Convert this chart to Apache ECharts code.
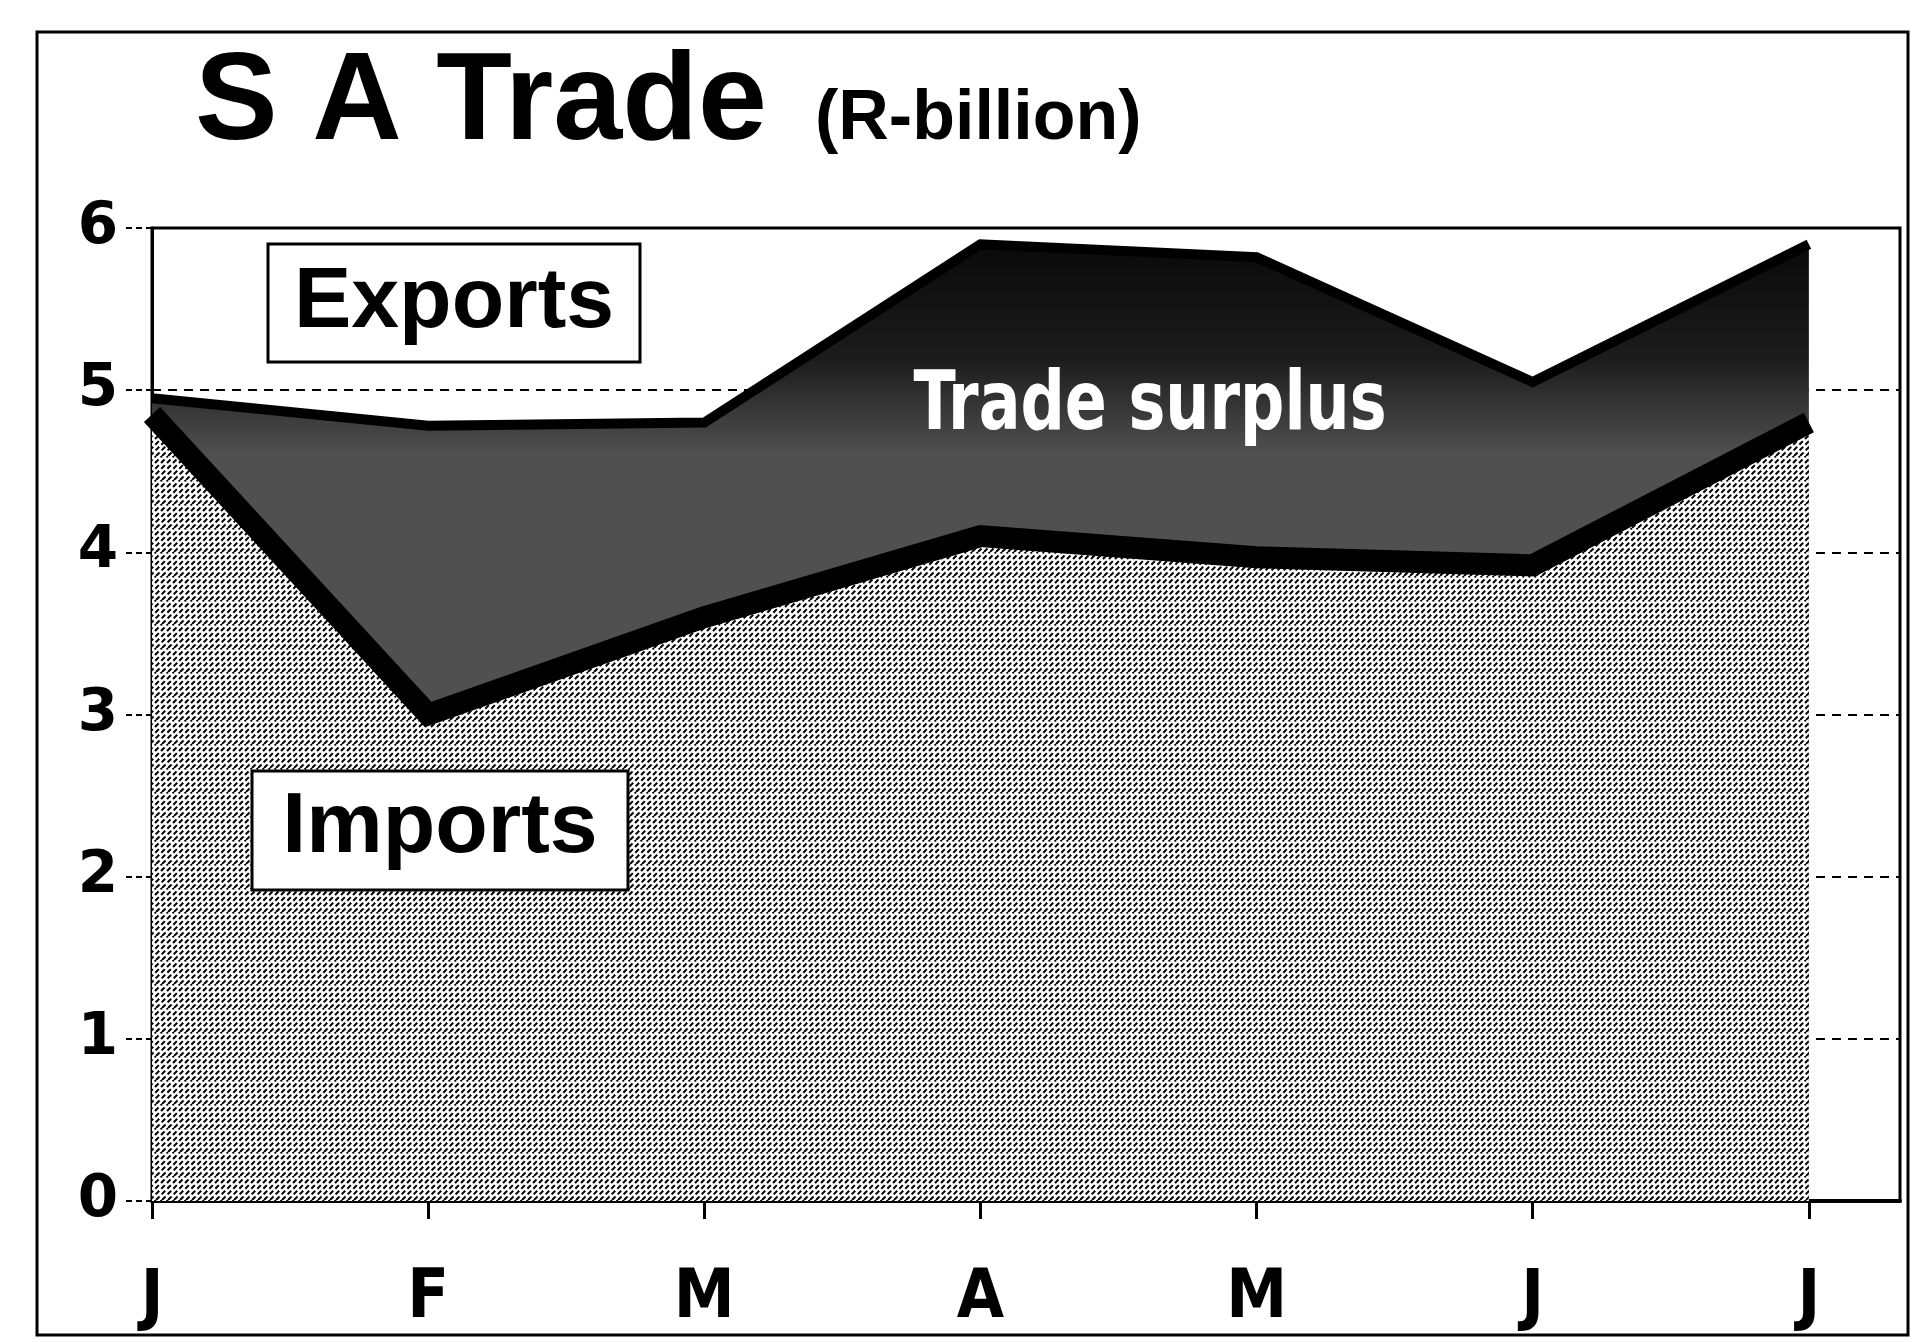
<!DOCTYPE html>
<html>
<head>
<meta charset="utf-8">
<title>S A Trade</title>
<script src="https://cdn.jsdelivr.net/npm/echarts@6.0.0/dist/echarts.min.js"></script>
<style>
  html, body { margin: 0; padding: 0; background: #fff; }
  #main { width: 1912px; height: 1342px; }
</style>
</head>
<body>
<div id="main"></div>
<script>
// months shown on the x axis (Jan..Jul)
var months = ['J', 'F', 'M', 'A', 'M', 'J', 'J'];
// R-billion
var exportsData = [4.95, 4.78, 4.8, 5.9, 5.82, 5.05, 5.9];
var importsData = [4.85, 3.0, 3.6, 4.1, 3.97, 3.92, 4.8];
var monthPos = [0, 1, 2, 3, 4, 5, 6];

function pairs(vals) {
    return vals.map(function (v, i) { return [monthPos[i], v]; });
}

// newsprint-ish hatch for the imports area
function makeHatch() {
    var c = document.createElement('canvas');
    c.width = 24; c.height = 24;
    var ctx = c.getContext('2d');
    ctx.fillStyle = '#fff';
    ctx.fillRect(0, 0, 24, 24);
    ctx.strokeStyle = '#000';
    ctx.lineWidth = 2;
    ctx.setLineDash([5, 3]);
    for (var o = -24; o <= 24; o += 6) {
        ctx.beginPath();
        ctx.moveTo(o, 24);
        ctx.lineTo(o + 24, 0);
        ctx.stroke();
    }
    return c;
}

var myChart = echarts.init(document.getElementById('main'), null, {renderer: 'canvas'});
var axisFont = "'Liberation Sans Narrow', 'DejaVu Sans Condensed', sans-serif";

myChart.setOption({
    animation: false,
    backgroundColor: '#fff',
    grid: {
        left: 152, right: 12, top: 228, bottom: 141,
        show: true, borderColor: '#000', borderWidth: 3, backgroundColor: '#fff'
    },
    xAxis: {
        type: 'value', min: 0, max: 6.33,
        axisLine: {show: true, onZero: false, lineStyle: {color: '#000', width: 4}},
        axisTick: {show: true, length: 18, customValues: monthPos, lineStyle: {color: '#000', width: 3}},
        axisLabel: {
            customValues: monthPos, margin: 64,
            fontFamily: axisFont, fontWeight: 'bold', fontSize: 68, color: '#000',
            formatter: function (v) { return months[Math.round(v)]; }
        },
        splitLine: {show: false}
    },
    yAxis: {
        type: 'value', min: 0, max: 6, interval: 1,
        axisLine: {show: true, lineStyle: {color: '#000', width: 3}},
        axisTick: {show: true, length: 26, lineStyle: {color: '#000', width: 2, type: [6, 4]}},
        axisLabel: {
            margin: 34, fontFamily: "'DejaVu Sans', sans-serif", fontWeight: 'bold',
            fontSize: 58, color: '#000'
        },
        splitLine: {show: true, lineStyle: {color: '#000', width: 2, type: [9, 7]}}
    },
    series: [
        {
            name: 'Exports', type: 'line', data: pairs(exportsData),
            symbol: 'none', z: 2,
            lineStyle: {color: '#000', width: 10, join: 'miter'},
            areaStyle: {
                opacity: 1,
                color: {
                    type: 'linear', x: 0, y: 0, x2: 0, y2: 1,
                    colorStops: [
                        {offset: 0, color: '#0a0a0a'},
                        {offset: 0.12, color: '#1c1c1c'},
                        {offset: 0.22, color: '#505050'},
                        {offset: 1, color: '#505050'}
                    ]
                }
            }
        },
        {
            name: 'Imports', type: 'line', data: pairs(importsData),
            symbol: 'none', z: 3,
            lineStyle: {color: '#000', width: 22, join: 'miter'},
            areaStyle: {opacity: 1, color: {image: makeHatch(), repeat: 'repeat'}}
        }
    ],
    graphic: [
        // outer frame
        {type: 'rect', shape: {x: 37, y: 32, width: 1871, height: 1303},
         style: {fill: null, stroke: '#000', lineWidth: 3}, z: 0},
        // title
        {type: 'text', x: 195, y: 105, z: 10,
         style: {text: 'S A Trade', font: "bold 124px 'Liberation Sans', Arial, sans-serif",
                 fill: '#000', verticalAlign: 'middle'}},
        {type: 'text', x: 815, y: 120, z: 10,
         style: {text: '(R-billion)', font: "bold 70px 'Liberation Sans', Arial, sans-serif",
                 fill: '#000', verticalAlign: 'middle'}},
        // Exports label box
        {type: 'rect', shape: {x: 268, y: 244, width: 372, height: 118}, z: 10,
         style: {fill: '#fff', stroke: '#000', lineWidth: 3}},
        {type: 'text', x: 454, y: 303, z: 11,
         style: {text: 'Exports', font: "bold 86px 'Liberation Sans', Arial, sans-serif",
                 fill: '#000', align: 'center', verticalAlign: 'middle'}},
        // Imports label box
        {type: 'rect', shape: {x: 252, y: 771, width: 376, height: 119}, z: 10,
         style: {fill: '#fff', stroke: '#000', lineWidth: 3}},
        {type: 'text', x: 440, y: 828, z: 11,
         style: {text: 'Imports', font: "bold 86px 'Liberation Sans', Arial, sans-serif",
                 fill: '#000', align: 'center', verticalAlign: 'middle'}},
        // surplus label
        {type: 'text', x: 1150, y: 408, z: 11, scaleX: 0.84,
         style: {text: 'Trade surplus', font: "bold 82px 'DejaVu Sans Condensed', sans-serif",
                 fill: '#fff', align: 'center', verticalAlign: 'middle'}}
    ]
});
</script>
</body>
</html>
